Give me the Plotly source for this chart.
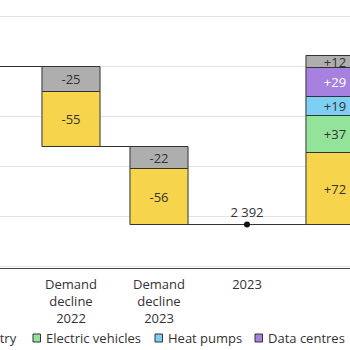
import plotly.graph_objects as go

# ---- data ----
x_pos = [0, 1, 2, 3, 4]
tick_labels = ["2021", "Demand<br>decline<br>2022", "Demand<br>decline<br>2023",
               "2023", "Demand<br>recovery<br>2024-2025"]
start_level = 2550          # 2021 total
total_2023 = 2392
series_names = ["Industry", "Electric vehicles", "Heat pumps", "Data centres", "Other"]
industry = [-55, -56, 72]
electric_vehicles = [0, 0, 37]
heat_pumps = [0, 0, 19]
data_centres = [0, 0, 29]
other = [-25, -22, 12]
step_x = [1, 2, 4]
colors = ["#F6D44B", "#93E39A", "#7ECFF4", "#A781E0", "#AEAEAE"]
text_colors = ["#333333", "#333333", "#333333", "#FFFFFF", "#333333"]

series = [industry, electric_vehicles, heat_pumps, data_centres, other]

# compute stacked bases per step
levels_before = []
level = start_level
bases = [[None] * len(step_x) for _ in series]
heights = [[None] * len(step_x) for _ in series]
for j in range(len(step_x)):
    levels_before.append(level)
    vals = [s[j] for s in series]
    if sum(vals) < 0:
        cur = level
        for i in reversed(range(len(series))):
            v = vals[i]
            if v != 0:
                bases[i][j] = cur + v
                heights[i][j] = -v
                cur += v
        level = cur
    else:
        if j == 2:
            level = total_2023
            levels_before[-1] = level
        cur = level
        for i in range(len(series)):
            v = vals[i]
            if v != 0:
                bases[i][j] = cur
                heights[i][j] = v
                cur += v
        level = cur

fig = go.Figure()
bw = 0.66
font_family = "Open Sans"

for i, name in enumerate(series_names):
    txt = []
    for j in range(len(step_x)):
        v = series[i][j]
        txt.append("" if v == 0 else (f"+{v}" if v > 0 else f"{v}"))
    fig.add_trace(go.Bar(
        x=step_x, y=heights[i], base=bases[i], name=name, width=bw,
        marker=dict(color=colors[i], line=dict(color="#333333", width=1)),
        text=txt, textposition="inside", insidetextanchor="middle", textangle=0,
        textfont=dict(color=text_colors[i], size=13, family=font_family),
        showlegend=False, hoverinfo="skip",
    ))

# connector lines
after_1 = levels_before[1]
conn = [
    ([0, 1 - bw / 2], [start_level, start_level]),
    ([1 + bw / 2, 2 - bw / 2], [after_1, after_1]),
    ([2 + bw / 2, 4 - bw / 2], [total_2023, total_2023]),
]
for xs, ys in conn:
    fig.add_trace(go.Scatter(x=xs, y=ys, mode="lines", line=dict(color="#333333", width=1),
                             showlegend=False, hoverinfo="skip"))

# totals as dots
fig.add_trace(go.Scatter(
    x=[0, 3], y=[start_level, total_2023], mode="markers+text",
    marker=dict(color="#111111", size=6),
    text=["", "2 392"], textposition="top center",
    textfont=dict(color="#333333", size=13, family=font_family),
    showlegend=False, hoverinfo="skip", cliponaxis=False,
))

# manual legend (squares + labels); only entries inside the visible width are drawn
legend_text_x = [19, 44, 166, 266, 364]   # pixel positions of label start (first: end)
W, PH = 350, 268
legend_y_px = 338
for i, name in enumerate(series_names):
    tx = legend_text_x[i]
    if i == 0:
        fig.add_annotation(x=tx / W, y=(PH - legend_y_px) / PH, xref="paper", yref="paper",
                           text=name, showarrow=False, xanchor="right", yanchor="middle",
                           font=dict(size=13, color="#333333", family=font_family))
        continue
    if tx - 11 >= W:
        continue
    fig.add_annotation(x=tx / W, y=(PH - legend_y_px) / PH, xref="paper", yref="paper",
                       text=name, showarrow=False, xanchor="left", yanchor="middle",
                       font=dict(size=13, color="#333333", family=font_family))
    sx0 = tx - 11
    fig.add_shape(type="rect", xref="paper", yref="paper",
                  x0=sx0 / W, x1=(sx0 + 7.5) / W,
                  y0=(PH - (legend_y_px + 4)) / PH, y1=(PH - (legend_y_px - 4)) / PH,
                  fillcolor=colors[i], line=dict(color="#333333", width=1))

fig.update_layout(
    width=350, height=350,
    margin=dict(l=0, r=0, t=0, b=82, pad=0),
    plot_bgcolor="white", paper_bgcolor="white",
    barmode="overlay",
    uniformtext=dict(minsize=13, mode="show"),
    font=dict(family=font_family, size=13, color="#333333"),
    xaxis=dict(range=[17 / 88, 367 / 88], tickmode="array", tickvals=x_pos,
               ticktext=tick_labels, showgrid=False, zeroline=False,
               showline=True, linecolor="#444444", linewidth=1.3,
               ticks="", automargin=False, ticklabelstandoff=4,
               tickfont=dict(size=13, color="#333333", family=font_family)),
    yaxis=dict(range=[2348.5, 2616.5], tickvals=[2350, 2400, 2450, 2500, 2550, 2600],
               showticklabels=False, showgrid=True, gridcolor="#E3E3E3", gridwidth=1,
               zeroline=False, automargin=False),
    showlegend=False,
)

fig.write_html("out.html")
